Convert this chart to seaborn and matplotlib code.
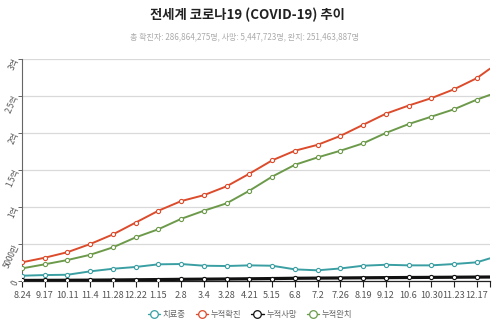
import matplotlib
matplotlib.use("Agg")
import matplotlib.pyplot as plt
from matplotlib.lines import Line2D
import seaborn as sns
import pandas as pd

# ---- data (millions of people) ----
dates = ["2020-08-24", "2020-09-17", "2020-10-11", "2020-11-04", "2020-11-28", "2020-12-22",
         "2021-01-15", "2021-02-08", "2021-03-04", "2021-03-28", "2021-04-21", "2021-05-15",
         "2021-06-08", "2021-07-02", "2021-07-26", "2021-08-19", "2021-09-12", "2021-10-06",
         "2021-10-30", "2021-11-23", "2021-12-17", "2021-12-31"]
tick_labels = ["8.24", "9.17", "10.11", "11.4", "11.28", "12.22", "1.15", "2.8", "3.4", "3.28",
               "4.21", "5.15", "6.8", "7.2", "7.26", "8.19", "9.12", "10.6", "10.30", "11.23",
               "12.17", ""]
active = [7.2, 8.1, 8.5, 13.1, 16.6, 19.0, 22.6, 23.0, 20.7, 20.3, 21.2, 20.7,
          15.8, 14.5, 17.0, 20.7, 22.0, 21.2, 21.2, 23.0, 25.3, 30.7]
confirmed = [25.3, 31.5, 39.0, 50.0, 63.0, 79.0, 95.0, 108.0, 116.0, 128.0, 145.0, 163.0,
             176.0, 184.0, 196.0, 211.0, 226.0, 237.0, 247.0, 259.0, 274.0, 286.9]
deaths = [0.81, 0.95, 1.08, 1.23, 1.45, 1.72, 2.0, 2.33, 2.55, 2.78, 3.06, 3.37,
          3.76, 3.97, 4.16, 4.4, 4.6, 4.8, 4.98, 5.17, 5.35, 5.45]
recovered = [17.1, 22.6, 28.4, 35.5, 45.5, 59.0, 70.0, 84.0, 95.0, 105.0, 122.0, 141.0,
             157.0, 167.0, 176.0, 186.0, 200.0, 212.0, 222.0, 232.0, 245.0, 251.5]
series_names = ["치료중", "누적확진", "누적사망", "누적완치"]
y_tick_values = [0, 50, 100, 150, 200, 250, 300]
y_tick_labels = ["0", "5000만", "1억", "1.5억", "2억", "2.5억", "3억"]
title = "전세계 코로나19 (COVID-19) 추이"
subtitle = "총 확진자: 286,864,275명, 사망: 5,447,723명, 완치: 251,463,887명"

colors = ["#3a9fa3", "#dc4b2b", "#111111", "#6c9a4a"]
widths = [1.4, 1.4, 2.3, 1.4]

sns.set_theme(style="white")
plt.rcParams["font.family"] = ["Noto Sans CJK KR", "DejaVu Sans"]

t = pd.to_datetime(dates)
days = (t - t[0]).days.to_numpy()
df = pd.DataFrame({"day": days, "치료중": active, "누적확진": confirmed,
                   "누적사망": deaths, "누적완치": recovered})

fig = plt.figure(figsize=(5, 3.33), dpi=100)
ax = fig.add_axes([0.044, 0.156, 0.936, 0.667])

ax.yaxis.grid(True, color="#d9d9d9", linewidth=0.9)
ax.set_axisbelow(True)

n = len(days)
for name, c, w in zip(series_names, colors, widths):
    sns.lineplot(data=df, x="day", y=name, ax=ax, color=c, linewidth=w,
                 marker="o", markersize=3.0, markerfacecolor="white",
                 markeredgecolor=c, markeredgewidth=0.8,
                 markevery=list(range(n - 1)), zorder=3, legend=False)

ax.set_xlim(days[0], days[-1])
ax.set_ylim(0, 300)
ax.set_xticks(days)
ax.set_xticklabels(tick_labels, fontsize=6.6, color="#555555",
                   family=["Liberation Sans Narrow", "Noto Sans CJK KR"])
ax.set_yticks(y_tick_values)
ax.set_yticklabels(y_tick_labels, fontsize=5.8, color="#555555", rotation=66,
                   ha="right", va="center", rotation_mode="anchor")
ax.set_xlabel("")
ax.set_ylabel("")
ax.tick_params(axis="x", length=4, width=0.8, color="#222222", pad=3, direction="out", bottom=True)
ax.tick_params(axis="y", length=3, width=0.7, color="#666666", pad=1.0, left=True)

for s in ["top", "right"]:
    ax.spines[s].set_visible(False)
ax.spines["left"].set_color("#666666")
ax.spines["left"].set_linewidth(0.8)
ax.spines["bottom"].set_color("#222222")
ax.spines["bottom"].set_linewidth(0.9)

fig.text(0.494, 0.955, title, ha="center", va="center", fontsize=9.6,
         fontweight="bold", color="#222222")
fig.text(0.49, 0.888, subtitle, ha="center", va="center", fontsize=5.8, color="#aaaaaa")

handles = [Line2D([0], [0], color=c, linewidth=1.0, marker="o", markersize=5.5,
                  markerfacecolor="white", markeredgecolor=c, markeredgewidth=0.9)
           for c in colors]
fig.legend(handles, series_names, loc="center", bbox_to_anchor=(0.5, 0.057), ncol=4,
           frameon=False, fontsize=6.0, handlelength=1.5, handletextpad=0.3,
           columnspacing=1.2, labelcolor="#666666")

fig.savefig("out.png", dpi=100)
